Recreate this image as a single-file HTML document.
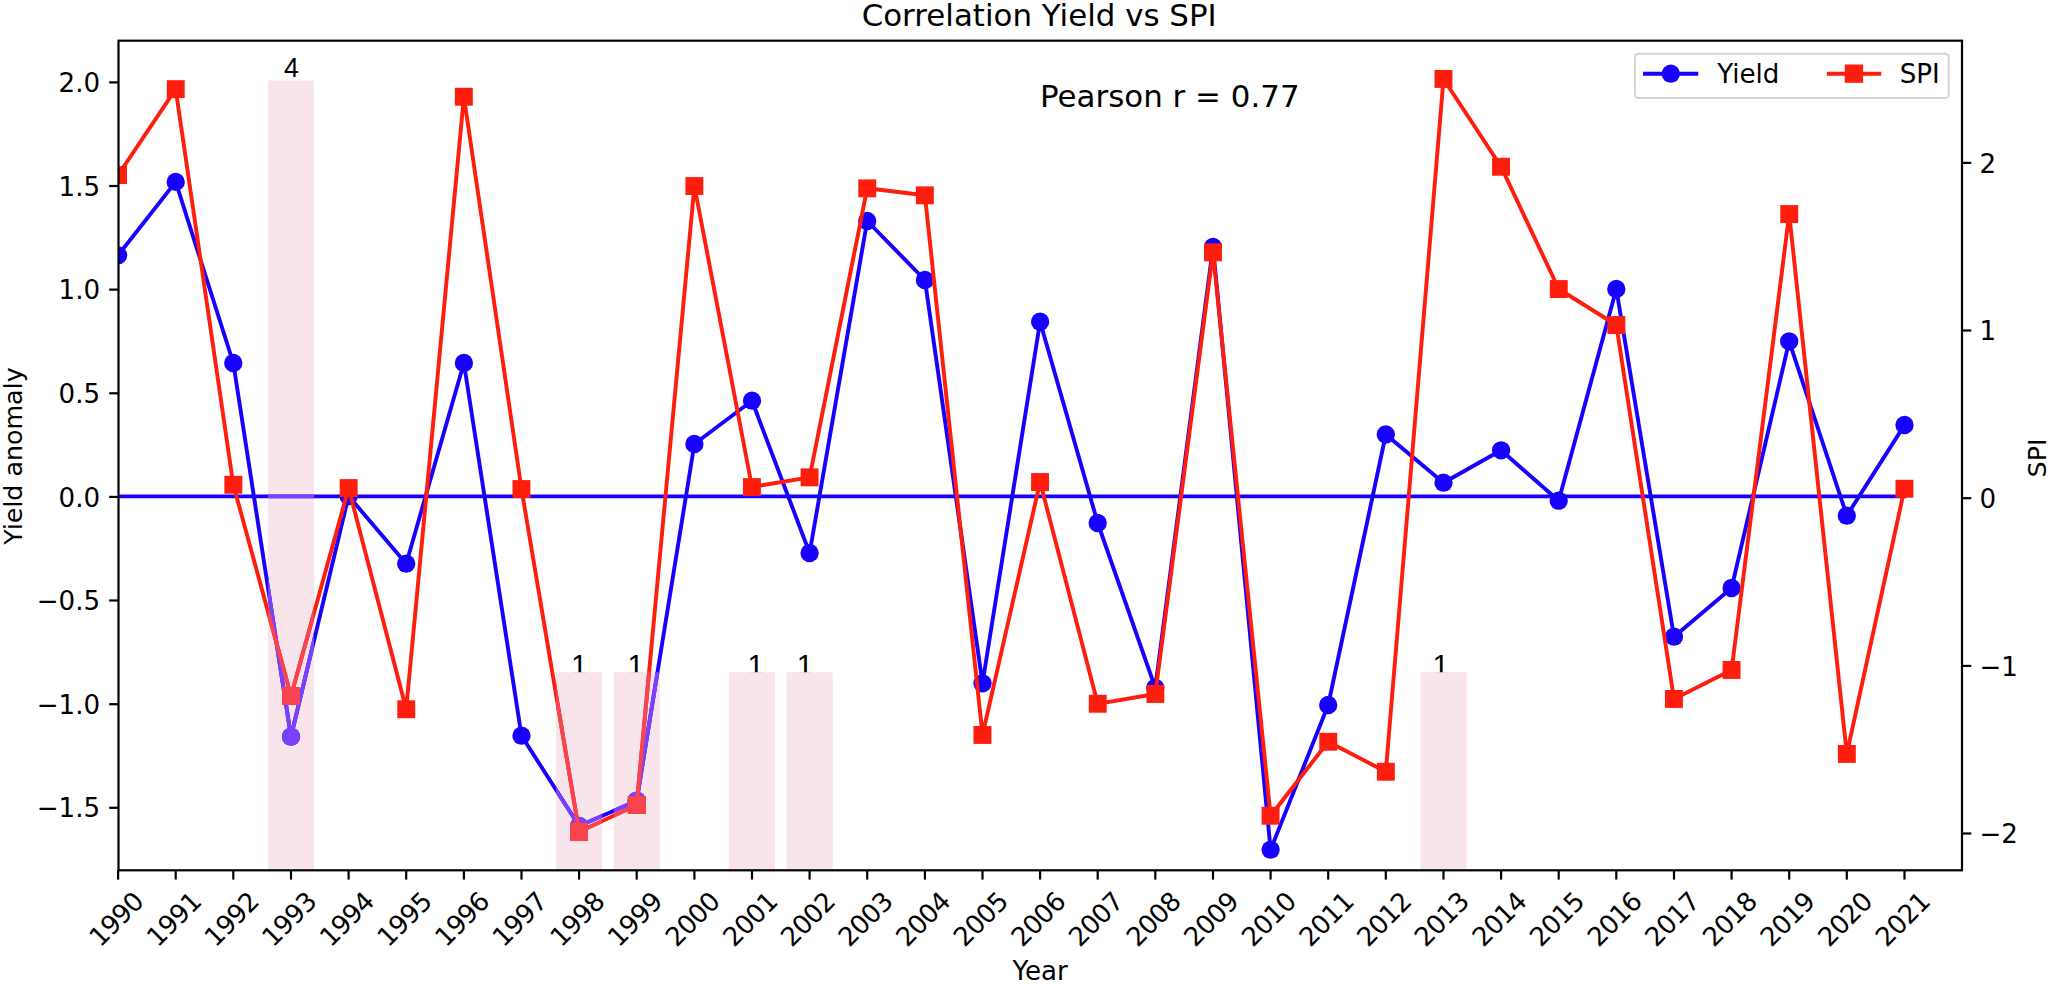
<!DOCTYPE html>
<html lang="en"><head><meta charset="utf-8"><title>Correlation Yield vs SPI</title>
<style>
html,body{margin:0;padding:0;background:#fff;}
body{width:2050px;height:984px;overflow:hidden;}
svg{display:block;}
text{font-family:"DejaVu Sans","Liberation Sans",sans-serif;fill:#000;}
.t{font-size:26.1px;}
.big{font-size:30.9px;}
.xl{letter-spacing:-0.77px;}
.yl{font-size:25.3px;}
.bl{font-family:"Liberation Sans","DejaVu Sans",sans-serif;font-size:26px;}
</style></head><body>
<svg width="2050" height="984" viewBox="0 0 2050 984">
<rect x="0" y="0" width="2050" height="984" fill="#ffffff"/>
<defs><clipPath id="ax"><rect x="118.50" y="40.70" width="1843.50" height="829.60"/></clipPath><clipPath id="c1"><rect x="0" y="600" width="2050" height="72.2"/></clipPath></defs>
<defs><clipPath id="bars">
<rect x="267.93" y="80.50" width="46.10" height="789.80"/>
<rect x="556.05" y="672.20" width="46.10" height="198.10"/>
<rect x="613.68" y="672.20" width="46.10" height="198.10"/>
<rect x="728.93" y="672.20" width="46.10" height="198.10"/>
<rect x="786.55" y="672.20" width="46.10" height="198.10"/>
<rect x="1420.42" y="672.20" width="46.10" height="198.10"/>
</clipPath></defs>
<g fill="#f8e5eb">
<rect x="267.93" y="80.50" width="46.10" height="789.80"/>
<rect x="556.05" y="672.20" width="46.10" height="198.10"/>
<rect x="613.68" y="672.20" width="46.10" height="198.10"/>
<rect x="728.93" y="672.20" width="46.10" height="198.10"/>
<rect x="786.55" y="672.20" width="46.10" height="198.10"/>
<rect x="1420.42" y="672.20" width="46.10" height="198.10"/>
</g>
<g clip-path="url(#ax)">
<polyline points="118.1,255.3 175.7,181.9 233.3,363.0 291.0,736.7 348.6,496.0 406.2,563.7 463.9,363.0 521.5,735.7 579.1,826.0 636.7,800.7 694.4,444.0 752.0,400.7 809.6,553.0 867.2,221.0 924.9,280.0 982.5,683.3 1040.1,321.7 1097.7,523.0 1155.3,687.8 1213.0,247.0 1270.6,849.7 1328.2,705.0 1385.8,434.5 1443.5,482.7 1501.1,450.3 1558.7,500.7 1616.3,289.0 1674.0,636.7 1731.6,588.0 1789.2,341.3 1846.8,515.7 1904.5,425.0" fill="none" stroke="#1800ff" stroke-width="3.9" stroke-linejoin="round" stroke-linecap="square"/>
<g fill="#1800ff">
<circle cx="118.1" cy="255.3" r="9.15"/>
<circle cx="175.7" cy="181.9" r="9.15"/>
<circle cx="233.3" cy="363.0" r="9.15"/>
<circle cx="291.0" cy="736.7" r="9.15"/>
<circle cx="348.6" cy="496.0" r="9.15"/>
<circle cx="406.2" cy="563.7" r="9.15"/>
<circle cx="463.9" cy="363.0" r="9.15"/>
<circle cx="521.5" cy="735.7" r="9.15"/>
<circle cx="579.1" cy="826.0" r="9.15"/>
<circle cx="636.7" cy="800.7" r="9.15"/>
<circle cx="694.4" cy="444.0" r="9.15"/>
<circle cx="752.0" cy="400.7" r="9.15"/>
<circle cx="809.6" cy="553.0" r="9.15"/>
<circle cx="867.2" cy="221.0" r="9.15"/>
<circle cx="924.9" cy="280.0" r="9.15"/>
<circle cx="982.5" cy="683.3" r="9.15"/>
<circle cx="1040.1" cy="321.7" r="9.15"/>
<circle cx="1097.7" cy="523.0" r="9.15"/>
<circle cx="1155.3" cy="687.8" r="9.15"/>
<circle cx="1213.0" cy="247.0" r="9.15"/>
<circle cx="1270.6" cy="849.7" r="9.15"/>
<circle cx="1328.2" cy="705.0" r="9.15"/>
<circle cx="1385.8" cy="434.5" r="9.15"/>
<circle cx="1443.5" cy="482.7" r="9.15"/>
<circle cx="1501.1" cy="450.3" r="9.15"/>
<circle cx="1558.7" cy="500.7" r="9.15"/>
<circle cx="1616.3" cy="289.0" r="9.15"/>
<circle cx="1674.0" cy="636.7" r="9.15"/>
<circle cx="1731.6" cy="588.0" r="9.15"/>
<circle cx="1789.2" cy="341.3" r="9.15"/>
<circle cx="1846.8" cy="515.7" r="9.15"/>
<circle cx="1904.5" cy="425.0" r="9.15"/>
</g>
<line x1="118.1" y1="496.3" x2="1904.5" y2="496.3" stroke="#1800ff" stroke-width="3.8" stroke-linecap="square"/>
<polyline points="118.1,175.0 175.7,89.2 233.3,484.7 291.0,696.0 348.6,488.0 406.2,709.3 463.9,96.7 521.5,489.0 579.1,831.7 636.7,805.0 694.4,186.0 752.0,487.0 809.6,477.3 867.2,188.3 924.9,195.3 982.5,735.0 1040.1,482.0 1097.7,703.8 1155.3,694.0 1213.0,252.3 1270.6,815.7 1328.2,741.7 1385.8,771.7 1443.5,79.0 1501.1,166.7 1558.7,289.0 1616.3,325.0 1674.0,699.0 1731.6,670.0 1789.2,214.0 1846.8,754.0 1904.5,488.7" fill="none" stroke="#ff1d0d" stroke-width="3.9" stroke-linejoin="round" stroke-linecap="square"/>
<g fill="#ff1d0d">
<rect x="109.1" y="166.1" width="17.9" height="17.9"/>
<rect x="166.8" y="80.2" width="17.9" height="17.9"/>
<rect x="224.4" y="475.8" width="17.9" height="17.9"/>
<rect x="282.0" y="687.0" width="17.9" height="17.9"/>
<rect x="339.7" y="479.1" width="17.9" height="17.9"/>
<rect x="397.3" y="700.3" width="17.9" height="17.9"/>
<rect x="454.9" y="87.8" width="17.9" height="17.9"/>
<rect x="512.5" y="480.1" width="17.9" height="17.9"/>
<rect x="570.1" y="822.8" width="17.9" height="17.9"/>
<rect x="627.8" y="796.0" width="17.9" height="17.9"/>
<rect x="685.4" y="177.1" width="17.9" height="17.9"/>
<rect x="743.0" y="478.1" width="17.9" height="17.9"/>
<rect x="800.6" y="468.4" width="17.9" height="17.9"/>
<rect x="858.3" y="179.4" width="17.9" height="17.9"/>
<rect x="915.9" y="186.4" width="17.9" height="17.9"/>
<rect x="973.5" y="726.0" width="17.9" height="17.9"/>
<rect x="1031.1" y="473.1" width="17.9" height="17.9"/>
<rect x="1088.8" y="694.8" width="17.9" height="17.9"/>
<rect x="1146.4" y="685.0" width="17.9" height="17.9"/>
<rect x="1204.0" y="243.4" width="17.9" height="17.9"/>
<rect x="1261.6" y="806.8" width="17.9" height="17.9"/>
<rect x="1319.3" y="732.8" width="17.9" height="17.9"/>
<rect x="1376.9" y="762.8" width="17.9" height="17.9"/>
<rect x="1434.5" y="70.0" width="17.9" height="17.9"/>
<rect x="1492.1" y="157.8" width="17.9" height="17.9"/>
<rect x="1549.8" y="280.1" width="17.9" height="17.9"/>
<rect x="1607.4" y="316.1" width="17.9" height="17.9"/>
<rect x="1665.0" y="690.0" width="17.9" height="17.9"/>
<rect x="1722.6" y="661.0" width="17.9" height="17.9"/>
<rect x="1780.3" y="205.1" width="17.9" height="17.9"/>
<rect x="1837.9" y="745.0" width="17.9" height="17.9"/>
<rect x="1895.5" y="479.8" width="17.9" height="17.9"/>
</g>
</g>
<g clip-path="url(#bars)">
<polyline points="118.1,255.3 175.7,181.9 233.3,363.0 291.0,736.7 348.6,496.0 406.2,563.7 463.9,363.0 521.5,735.7 579.1,826.0 636.7,800.7 694.4,444.0 752.0,400.7 809.6,553.0 867.2,221.0 924.9,280.0 982.5,683.3 1040.1,321.7 1097.7,523.0 1155.3,687.8 1213.0,247.0 1270.6,849.7 1328.2,705.0 1385.8,434.5 1443.5,482.7 1501.1,450.3 1558.7,500.7 1616.3,289.0 1674.0,636.7 1731.6,588.0 1789.2,341.3 1846.8,515.7 1904.5,425.0" fill="none" stroke="#7a41fc" stroke-width="3.9" stroke-linejoin="round" stroke-linecap="square"/>
<g fill="#7a41fc">
<circle cx="118.1" cy="255.3" r="9.15"/>
<circle cx="175.7" cy="181.9" r="9.15"/>
<circle cx="233.3" cy="363.0" r="9.15"/>
<circle cx="291.0" cy="736.7" r="9.15"/>
<circle cx="348.6" cy="496.0" r="9.15"/>
<circle cx="406.2" cy="563.7" r="9.15"/>
<circle cx="463.9" cy="363.0" r="9.15"/>
<circle cx="521.5" cy="735.7" r="9.15"/>
<circle cx="579.1" cy="826.0" r="9.15"/>
<circle cx="636.7" cy="800.7" r="9.15"/>
<circle cx="694.4" cy="444.0" r="9.15"/>
<circle cx="752.0" cy="400.7" r="9.15"/>
<circle cx="809.6" cy="553.0" r="9.15"/>
<circle cx="867.2" cy="221.0" r="9.15"/>
<circle cx="924.9" cy="280.0" r="9.15"/>
<circle cx="982.5" cy="683.3" r="9.15"/>
<circle cx="1040.1" cy="321.7" r="9.15"/>
<circle cx="1097.7" cy="523.0" r="9.15"/>
<circle cx="1155.3" cy="687.8" r="9.15"/>
<circle cx="1213.0" cy="247.0" r="9.15"/>
<circle cx="1270.6" cy="849.7" r="9.15"/>
<circle cx="1328.2" cy="705.0" r="9.15"/>
<circle cx="1385.8" cy="434.5" r="9.15"/>
<circle cx="1443.5" cy="482.7" r="9.15"/>
<circle cx="1501.1" cy="450.3" r="9.15"/>
<circle cx="1558.7" cy="500.7" r="9.15"/>
<circle cx="1616.3" cy="289.0" r="9.15"/>
<circle cx="1674.0" cy="636.7" r="9.15"/>
<circle cx="1731.6" cy="588.0" r="9.15"/>
<circle cx="1789.2" cy="341.3" r="9.15"/>
<circle cx="1846.8" cy="515.7" r="9.15"/>
<circle cx="1904.5" cy="425.0" r="9.15"/>
</g>
<line x1="118.1" y1="496.3" x2="1904.5" y2="496.3" stroke="#7a41fc" stroke-width="3.8" stroke-linecap="square"/>
<polyline points="118.1,175.0 175.7,89.2 233.3,484.7 291.0,696.0 348.6,488.0 406.2,709.3 463.9,96.7 521.5,489.0 579.1,831.7 636.7,805.0 694.4,186.0 752.0,487.0 809.6,477.3 867.2,188.3 924.9,195.3 982.5,735.0 1040.1,482.0 1097.7,703.8 1155.3,694.0 1213.0,252.3 1270.6,815.7 1328.2,741.7 1385.8,771.7 1443.5,79.0 1501.1,166.7 1558.7,289.0 1616.3,325.0 1674.0,699.0 1731.6,670.0 1789.2,214.0 1846.8,754.0 1904.5,488.7" fill="none" stroke="#f9434e" stroke-width="3.9" stroke-linejoin="round" stroke-linecap="square"/>
<g fill="#f9434e">
<rect x="109.1" y="166.1" width="17.9" height="17.9"/>
<rect x="166.8" y="80.2" width="17.9" height="17.9"/>
<rect x="224.4" y="475.8" width="17.9" height="17.9"/>
<rect x="282.0" y="687.0" width="17.9" height="17.9"/>
<rect x="339.7" y="479.1" width="17.9" height="17.9"/>
<rect x="397.3" y="700.3" width="17.9" height="17.9"/>
<rect x="454.9" y="87.8" width="17.9" height="17.9"/>
<rect x="512.5" y="480.1" width="17.9" height="17.9"/>
<rect x="570.1" y="822.8" width="17.9" height="17.9"/>
<rect x="627.8" y="796.0" width="17.9" height="17.9"/>
<rect x="685.4" y="177.1" width="17.9" height="17.9"/>
<rect x="743.0" y="478.1" width="17.9" height="17.9"/>
<rect x="800.6" y="468.4" width="17.9" height="17.9"/>
<rect x="858.3" y="179.4" width="17.9" height="17.9"/>
<rect x="915.9" y="186.4" width="17.9" height="17.9"/>
<rect x="973.5" y="726.0" width="17.9" height="17.9"/>
<rect x="1031.1" y="473.1" width="17.9" height="17.9"/>
<rect x="1088.8" y="694.8" width="17.9" height="17.9"/>
<rect x="1146.4" y="685.0" width="17.9" height="17.9"/>
<rect x="1204.0" y="243.4" width="17.9" height="17.9"/>
<rect x="1261.6" y="806.8" width="17.9" height="17.9"/>
<rect x="1319.3" y="732.8" width="17.9" height="17.9"/>
<rect x="1376.9" y="762.8" width="17.9" height="17.9"/>
<rect x="1434.5" y="70.0" width="17.9" height="17.9"/>
<rect x="1492.1" y="157.8" width="17.9" height="17.9"/>
<rect x="1549.8" y="280.1" width="17.9" height="17.9"/>
<rect x="1607.4" y="316.1" width="17.9" height="17.9"/>
<rect x="1665.0" y="690.0" width="17.9" height="17.9"/>
<rect x="1722.6" y="661.0" width="17.9" height="17.9"/>
<rect x="1780.3" y="205.1" width="17.9" height="17.9"/>
<rect x="1837.9" y="745.0" width="17.9" height="17.9"/>
<rect x="1895.5" y="479.8" width="17.9" height="17.9"/>
</g>
</g>
<text class="bl" style="font-size:26.8px" x="291.5" y="77.3" text-anchor="middle">4</text>
<text class="bl" clip-path="url(#c1)" style="font-size:29.5px" x="570.98" y="675.11">1</text>
<text class="bl" clip-path="url(#c1)" style="font-size:29.5px" x="627.58" y="675.11">1</text>
<text class="bl" clip-path="url(#c1)" style="font-size:29.5px" x="747.38" y="675.11">1</text>
<text class="bl" clip-path="url(#c1)" style="font-size:29.5px" x="796.78" y="675.11">1</text>
<text class="bl" clip-path="url(#c1)" style="font-size:29.5px" x="1432.48" y="675.11">1</text>
<rect x="118.50" y="40.70" width="1843.50" height="829.60" fill="none" stroke="#000" stroke-width="2.2"/>
<line x1="118.1" y1="870.3" x2="118.1" y2="879.6" stroke="#000" stroke-width="2.2"/>
<text class="t xl" transform="translate(100.20,948.03) rotate(-45)">1990</text>
<line x1="175.7" y1="870.3" x2="175.7" y2="879.6" stroke="#000" stroke-width="2.2"/>
<text class="t xl" transform="translate(157.82,948.03) rotate(-45)">1991</text>
<line x1="233.3" y1="870.3" x2="233.3" y2="879.6" stroke="#000" stroke-width="2.2"/>
<text class="t xl" transform="translate(215.45,948.03) rotate(-45)">1992</text>
<line x1="291.0" y1="870.3" x2="291.0" y2="879.6" stroke="#000" stroke-width="2.2"/>
<text class="t xl" transform="translate(273.07,948.03) rotate(-45)">1993</text>
<line x1="348.6" y1="870.3" x2="348.6" y2="879.6" stroke="#000" stroke-width="2.2"/>
<text class="t xl" transform="translate(330.70,948.03) rotate(-45)">1994</text>
<line x1="406.2" y1="870.3" x2="406.2" y2="879.6" stroke="#000" stroke-width="2.2"/>
<text class="t xl" transform="translate(388.32,948.03) rotate(-45)">1995</text>
<line x1="463.9" y1="870.3" x2="463.9" y2="879.6" stroke="#000" stroke-width="2.2"/>
<text class="t xl" transform="translate(445.95,948.03) rotate(-45)">1996</text>
<line x1="521.5" y1="870.3" x2="521.5" y2="879.6" stroke="#000" stroke-width="2.2"/>
<text class="t xl" transform="translate(503.57,948.03) rotate(-45)">1997</text>
<line x1="579.1" y1="870.3" x2="579.1" y2="879.6" stroke="#000" stroke-width="2.2"/>
<text class="t xl" transform="translate(561.20,948.03) rotate(-45)">1998</text>
<line x1="636.7" y1="870.3" x2="636.7" y2="879.6" stroke="#000" stroke-width="2.2"/>
<text class="t xl" transform="translate(618.82,948.03) rotate(-45)">1999</text>
<line x1="694.4" y1="870.3" x2="694.4" y2="879.6" stroke="#000" stroke-width="2.2"/>
<text class="t xl" transform="translate(676.45,948.03) rotate(-45)">2000</text>
<line x1="752.0" y1="870.3" x2="752.0" y2="879.6" stroke="#000" stroke-width="2.2"/>
<text class="t xl" transform="translate(734.07,948.03) rotate(-45)">2001</text>
<line x1="809.6" y1="870.3" x2="809.6" y2="879.6" stroke="#000" stroke-width="2.2"/>
<text class="t xl" transform="translate(791.70,948.03) rotate(-45)">2002</text>
<line x1="867.2" y1="870.3" x2="867.2" y2="879.6" stroke="#000" stroke-width="2.2"/>
<text class="t xl" transform="translate(849.32,948.03) rotate(-45)">2003</text>
<line x1="924.9" y1="870.3" x2="924.9" y2="879.6" stroke="#000" stroke-width="2.2"/>
<text class="t xl" transform="translate(906.95,948.03) rotate(-45)">2004</text>
<line x1="982.5" y1="870.3" x2="982.5" y2="879.6" stroke="#000" stroke-width="2.2"/>
<text class="t xl" transform="translate(964.57,948.03) rotate(-45)">2005</text>
<line x1="1040.1" y1="870.3" x2="1040.1" y2="879.6" stroke="#000" stroke-width="2.2"/>
<text class="t xl" transform="translate(1022.20,948.03) rotate(-45)">2006</text>
<line x1="1097.7" y1="870.3" x2="1097.7" y2="879.6" stroke="#000" stroke-width="2.2"/>
<text class="t xl" transform="translate(1079.82,948.03) rotate(-45)">2007</text>
<line x1="1155.3" y1="870.3" x2="1155.3" y2="879.6" stroke="#000" stroke-width="2.2"/>
<text class="t xl" transform="translate(1137.45,948.03) rotate(-45)">2008</text>
<line x1="1213.0" y1="870.3" x2="1213.0" y2="879.6" stroke="#000" stroke-width="2.2"/>
<text class="t xl" transform="translate(1195.07,948.03) rotate(-45)">2009</text>
<line x1="1270.6" y1="870.3" x2="1270.6" y2="879.6" stroke="#000" stroke-width="2.2"/>
<text class="t xl" transform="translate(1252.70,948.03) rotate(-45)">2010</text>
<line x1="1328.2" y1="870.3" x2="1328.2" y2="879.6" stroke="#000" stroke-width="2.2"/>
<text class="t xl" transform="translate(1310.32,948.03) rotate(-45)">2011</text>
<line x1="1385.8" y1="870.3" x2="1385.8" y2="879.6" stroke="#000" stroke-width="2.2"/>
<text class="t xl" transform="translate(1367.95,948.03) rotate(-45)">2012</text>
<line x1="1443.5" y1="870.3" x2="1443.5" y2="879.6" stroke="#000" stroke-width="2.2"/>
<text class="t xl" transform="translate(1425.57,948.03) rotate(-45)">2013</text>
<line x1="1501.1" y1="870.3" x2="1501.1" y2="879.6" stroke="#000" stroke-width="2.2"/>
<text class="t xl" transform="translate(1483.20,948.03) rotate(-45)">2014</text>
<line x1="1558.7" y1="870.3" x2="1558.7" y2="879.6" stroke="#000" stroke-width="2.2"/>
<text class="t xl" transform="translate(1540.82,948.03) rotate(-45)">2015</text>
<line x1="1616.3" y1="870.3" x2="1616.3" y2="879.6" stroke="#000" stroke-width="2.2"/>
<text class="t xl" transform="translate(1598.45,948.03) rotate(-45)">2016</text>
<line x1="1674.0" y1="870.3" x2="1674.0" y2="879.6" stroke="#000" stroke-width="2.2"/>
<text class="t xl" transform="translate(1656.07,948.03) rotate(-45)">2017</text>
<line x1="1731.6" y1="870.3" x2="1731.6" y2="879.6" stroke="#000" stroke-width="2.2"/>
<text class="t xl" transform="translate(1713.70,948.03) rotate(-45)">2018</text>
<line x1="1789.2" y1="870.3" x2="1789.2" y2="879.6" stroke="#000" stroke-width="2.2"/>
<text class="t xl" transform="translate(1771.32,948.03) rotate(-45)">2019</text>
<line x1="1846.8" y1="870.3" x2="1846.8" y2="879.6" stroke="#000" stroke-width="2.2"/>
<text class="t xl" transform="translate(1828.95,948.03) rotate(-45)">2020</text>
<line x1="1904.5" y1="870.3" x2="1904.5" y2="879.6" stroke="#000" stroke-width="2.2"/>
<text class="t xl" transform="translate(1886.57,948.03) rotate(-45)">2021</text>
<line x1="109.2" y1="82.4" x2="118.5" y2="82.4" stroke="#000" stroke-width="2.2"/>
<text class="t" x="100.1" y="92.0" text-anchor="end">2.0</text>
<line x1="109.2" y1="186.0" x2="118.5" y2="186.0" stroke="#000" stroke-width="2.2"/>
<text class="t" x="100.1" y="195.6" text-anchor="end">1.5</text>
<line x1="109.2" y1="289.6" x2="118.5" y2="289.6" stroke="#000" stroke-width="2.2"/>
<text class="t" x="100.1" y="299.2" text-anchor="end">1.0</text>
<line x1="109.2" y1="393.3" x2="118.5" y2="393.3" stroke="#000" stroke-width="2.2"/>
<text class="t" x="100.1" y="402.9" text-anchor="end">0.5</text>
<line x1="109.2" y1="496.9" x2="118.5" y2="496.9" stroke="#000" stroke-width="2.2"/>
<text class="t" x="100.1" y="506.5" text-anchor="end">0.0</text>
<line x1="109.2" y1="600.5" x2="118.5" y2="600.5" stroke="#000" stroke-width="2.2"/>
<text class="t" x="100.1" y="610.1" text-anchor="end">−0.5</text>
<line x1="109.2" y1="704.2" x2="118.5" y2="704.2" stroke="#000" stroke-width="2.2"/>
<text class="t" x="100.1" y="713.8" text-anchor="end">−1.0</text>
<line x1="109.2" y1="807.8" x2="118.5" y2="807.8" stroke="#000" stroke-width="2.2"/>
<text class="t" x="100.1" y="817.4" text-anchor="end">−1.5</text>
<line x1="1962.0" y1="162.9" x2="1971.3" y2="162.9" stroke="#000" stroke-width="2.2"/>
<text class="t" x="1979.5" y="172.5">2</text>
<line x1="1962.0" y1="330.5" x2="1971.3" y2="330.5" stroke="#000" stroke-width="2.2"/>
<text class="t" x="1979.5" y="340.1">1</text>
<line x1="1962.0" y1="498.2" x2="1971.3" y2="498.2" stroke="#000" stroke-width="2.2"/>
<text class="t" x="1979.5" y="507.8">0</text>
<line x1="1962.0" y1="665.9" x2="1971.3" y2="665.9" stroke="#000" stroke-width="2.2"/>
<text class="t" x="1979.5" y="675.5">−1</text>
<line x1="1962.0" y1="833.5" x2="1971.3" y2="833.5" stroke="#000" stroke-width="2.2"/>
<text class="t" x="1979.5" y="843.1">−2</text>
<text class="big" x="1039.2" y="25.8" text-anchor="middle">Correlation Yield vs SPI</text>
<text class="t" x="1040.2" y="979.9" text-anchor="middle">Year</text>
<text class="t yl" transform="translate(22.0,456.1) rotate(-90)" text-anchor="middle">Yield anomaly</text>
<text class="t yl" transform="translate(2046.0,458.0) rotate(-90)" text-anchor="middle">SPI</text>
<text class="big" x="1040.0" y="107.3">Pearson r = 0.77</text>
<rect x="1635" y="53.7" width="313.7" height="44.3" rx="3.5" ry="3.5" fill="#ffffff" fill-opacity="0.8" stroke="#d4d4d4" stroke-width="2"/>
<line x1="1645" y1="73.7" x2="1696.3" y2="73.7" stroke="#1800ff" stroke-width="3.9" stroke-linecap="square"/>
<circle cx="1670.8" cy="73.7" r="9.15" fill="#1800ff"/>
<text class="t" x="1717.2" y="82.7">Yield</text>
<line x1="1828.8" y1="73.7" x2="1879.3" y2="73.7" stroke="#ff1d0d" stroke-width="3.9" stroke-linecap="square"/>
<rect x="1844.8" y="64.5" width="18.3" height="18.3" fill="#ff1d0d"/>
<text class="t" x="1899.8" y="82.7">SPI</text>
</svg>
</body></html>
